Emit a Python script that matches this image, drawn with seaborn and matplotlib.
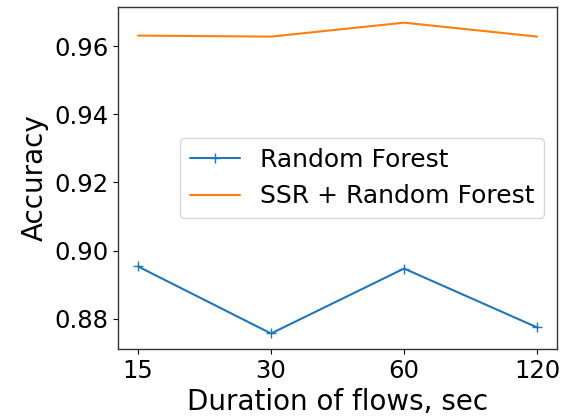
import matplotlib
matplotlib.use("Agg")
import matplotlib.pyplot as plt
import seaborn as sns
import pandas as pd

durations = ["15", "30", "60", "120"]
rf_acc = [0.8953, 0.8756, 0.8947, 0.8774]
ssr_rf_acc = [0.9632, 0.9629, 0.9670, 0.9629]

sns.set_theme(style="ticks", rc={
    "text.color": "black", "axes.labelcolor": "black",
    "xtick.color": "black", "ytick.color": "black",
    "axes.edgecolor": "#333333", "axes.linewidth": 1.0,
    "xtick.major.size": 3.5, "ytick.major.size": 3.5,
    "xtick.major.width": 0.8, "ytick.major.width": 0.8,
})
plt.rcParams['font.family'] = ['DejaVu Sans']

df = pd.DataFrame({
    "duration": durations * 2,
    "acc": rf_acc + ssr_rf_acc,
    "model": ["Random Forest"] * 4 + ["SSR + Random Forest"] * 4,
})

fig, ax = plt.subplots(figsize=(5.79, 4.19), dpi=100)
sns.lineplot(data=df[df.model == "Random Forest"], x="duration", y="acc",
             color="#1f77b4", marker="+", markersize=7, markeredgewidth=1.0,
             markeredgecolor="#1f77b4", linewidth=1.5,
             label="Random Forest", ax=ax)
sns.lineplot(data=df[df.model == "SSR + Random Forest"], x="duration", y="acc",
             color="#ff7f0e", linewidth=1.5, label="SSR + Random Forest", ax=ax)

ax.set_xlabel("Duration of flows, sec", fontsize=20)
ax.set_ylabel("Accuracy", fontsize=20)
ax.tick_params(labelsize=17.5)
ax.margins(x=0.05, y=0.05)
ax.legend(loc="center right", fontsize=18)

fig.subplots_adjust(left=0.204, right=0.962, top=0.983, bottom=0.167)
plt.savefig("out.png", dpi=100)
